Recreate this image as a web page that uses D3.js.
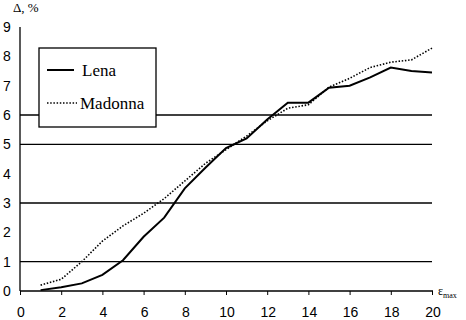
<html>
<head>
<meta charset="UTF-8">
<script src="https://d3js.org/d3.v7.min.js"></script>
<style>
  body { margin: 0; background: #fff; }
  .tick-label { font-family: 'Liberation Sans', Arial, sans-serif; font-size: 14px; fill: #000; }
  .serif { font-family: 'Liberation Serif', 'Times New Roman', serif; fill: #000; }
</style>
</head>
<body>
<svg id="chart" width="466" height="320"></svg>
<script>
const emax = [1, 2, 3, 4, 5, 6, 7, 8, 9, 10, 11, 12, 13, 14, 15, 16, 17, 18, 19, 20];
const lena = [0.03, 0.13, 0.26, 0.55, 1.05, 1.85, 2.5, 3.5, 4.2, 4.87, 5.2, 5.85, 6.42, 6.42, 6.93, 7.0, 7.28, 7.62, 7.5, 7.45];
const madonna = [0.2, 0.4, 1.0, 1.7, 2.22, 2.65, 3.15, 3.75, 4.35, 4.82, 5.28, 5.8, 6.23, 6.35, 6.95, 7.25, 7.62, 7.8, 7.88, 8.28];
const xTicks = [0, 2, 4, 6, 8, 10, 12, 14, 16, 18, 20];
const yTicks = [0, 1, 2, 3, 4, 5, 6, 7, 8, 9];
const gridLines = [1, 3, 5, 6];
const seriesNames = ['Lena', 'Madonna'];

const svg = d3.select('svg#chart');
const x = d3.scaleLinear().domain([0, 20]).range([20, 432]);
const y = d3.scaleLinear().domain([0, 9]).range([291, 27]);

// grid lines
svg.selectAll('line.grid')
  .data(gridLines)
  .enter()
  .append('line')
  .attr('x1', x(0)).attr('x2', x(20))
  .attr('y1', d => y(d)).attr('y2', d => y(d))
  .attr('stroke', '#000').attr('stroke-width', 1.3);

// x axis
const xAxis = d3.axisBottom(x).tickValues(xTicks).tickSize(4).tickFormat('');
const gx = svg.append('g').attr('transform', `translate(0,${y(0)})`).call(xAxis);
gx.select('.domain').attr('stroke-width', 1.3).attr('d', `M${x(0)},0H${x(20) + 1}`);
gx.selectAll('.tick line').attr('stroke-width', 1);

svg.selectAll('text.xl')
  .data(xTicks)
  .enter()
  .append('text')
  .attr('class', 'tick-label')
  .attr('x', d => x(d) + 1)
  .attr('y', 317)
  .attr('text-anchor', 'middle')
  .text(d => d);

// y axis
svg.append('line')
  .attr('x1', x(0)).attr('x2', x(0))
  .attr('y1', y(9)).attr('y2', y(0))
  .attr('stroke', '#000').attr('stroke-width', 1.3);

svg.selectAll('text.yl')
  .data(yTicks)
  .enter()
  .append('text')
  .attr('class', 'tick-label')
  .attr('x', 3)
  .attr('y', d => y(d) + 5)
  .text(d => d);

// axis titles
svg.append('text').attr('class', 'serif').attr('x', 13).attr('y', 12)
  .style('font-size', '13px').text('Δ, %');
const et = svg.append('text').attr('class', 'serif').attr('x', 438).attr('y', 295).style('font-size', '12px');
et.append('tspan').text('ε');
et.append('tspan').attr('dy', 3).style('font-size', '8px').text('max');

// lines
const line = d3.line().x((d, i) => x(emax[i])).y(d => y(d));
svg.append('path').datum(lena)
  .attr('d', line).attr('fill', 'none')
  .attr('stroke', '#000').attr('stroke-width', 2);
svg.append('path').datum(madonna)
  .attr('d', line).attr('fill', 'none')
  .attr('stroke', '#000').attr('stroke-width', 1.6)
  .attr('stroke-dasharray', '1.5,1.7');

// legend
svg.append('rect')
  .attr('x', 39).attr('y', 48).attr('width', 117).attr('height', 79)
  .attr('fill', '#fff').attr('stroke', '#000').attr('stroke-width', 1.3);
svg.append('line').attr('x1', 47).attr('x2', 74).attr('y1', 70).attr('y2', 70)
  .attr('stroke', '#000').attr('stroke-width', 2);
svg.append('line').attr('x1', 47).attr('x2', 77).attr('y1', 103).attr('y2', 103)
  .attr('stroke', '#000').attr('stroke-width', 1.5).attr('stroke-dasharray', '1.5,1.7');
svg.append('text').attr('class', 'serif').attr('x', 82).attr('y', 76)
  .style('font-size', '17px').text(seriesNames[0]);
svg.append('text').attr('class', 'serif').attr('x', 80).attr('y', 109)
  .style('font-size', '17px').text(seriesNames[1]);
</script>
</body>
</html>
